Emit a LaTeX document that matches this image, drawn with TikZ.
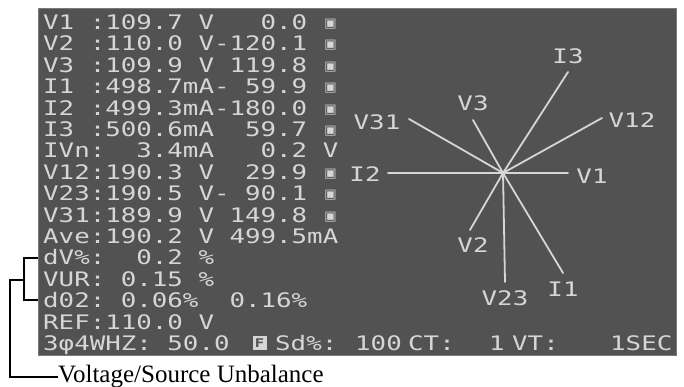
\documentclass[tikz,border=0pt]{standalone}
\usepackage{fontspec}
\setmainfont{Liberation Serif}
\newfontfamily\lcd[FakeStretch=1.29]{DejaVu Sans Mono}
\newfontfamily\symf{DejaVu Sans}
\definecolor{scrbg}{HTML}{525252}
\definecolor{scrrim}{HTML}{7A7A7A}
\definecolor{lcdfg}{HTML}{D6D6D6}
\newcommand\dg{\makebox[15.5pt]{\raisebox{2pt}{\fontsize{13}{13}\symf ▣}}}
\begin{document}
\begin{tikzpicture}[x=1pt,y=-1pt,
  lcdrow/.style={text=lcdfg,font=\lcd\fontsize{20}{20}\selectfont,inner sep=0pt,anchor=base west},
  lcdlab/.style={text=lcdfg,font=\lcd\fontsize{20}{20}\selectfont,inner sep=0pt,anchor=center},
  phasor/.style={draw=lcdfg,line width=1.8pt},
  bracket/.style={draw=black,line width=1.6pt},
  leader/.style={draw=black,line width=1.1pt}]
\useasboundingbox (0,0) rectangle (684,387);
% screen
\node (screen) [draw=scrrim,line width=1.2pt,fill=scrbg,inner sep=0pt,anchor=north west,
  minimum width=638pt,minimum height=347pt] at (38,8) {};
% table rows
\node (r0)  [lcdrow] at (43,29.5)  {V1~:109.7~V~~~0.0~\dg};
\node (r1)  [lcdrow] at (43,50.9)  {V2~:110.0~V-120.1~\dg};
\node (r2)  [lcdrow] at (43,72.3)  {V3~:109.9~V~119.8~\dg};
\node (r3)  [lcdrow] at (43,93.7)  {I1~:498.7mA-~59.9~\dg};
\node (r4)  [lcdrow] at (43,115.1) {I2~:499.3mA-180.0~\dg};
\node (r5)  [lcdrow] at (43,136.5) {I3~:500.6mA~~59.7~\dg};
\node (r6)  [lcdrow] at (43,157.9) {IVn:~~3.4mA~~~0.2~V};
\node (r7)  [lcdrow] at (43,179.3) {V12:190.3~V~~29.9~\dg};
\node (r8)  [lcdrow] at (43,200.7) {V23:190.5~V-~90.1~\dg};
\node (r9)  [lcdrow] at (43,222.1) {V31:189.9~V~149.8~\dg};
\node (r10) [lcdrow] at (43,243.5) {Ave:190.2~V~499.5mA};
\node (r11) [lcdrow] at (43,264.9) {dV\%:~~0.2~\%};
\node (r12) [lcdrow] at (43,286.3) {VUR:~0.15~\%};
\node (r13) [lcdrow] at (43,307.7) {d02:~0.06\%~~0.16\%};
\node (r14) [lcdrow] at (43,329.1) {REF:110.0~V};
% bottom status row
\node (s1) [lcdrow] at (43,350.5)  {3φ4WHZ:~50.0};
\node (sF) [fill=lcdfg,text=scrbg,font=\lcd\fontsize{12}{12}\selectfont\bfseries,inner sep=0pt,
  minimum width=14pt,minimum height=14pt] at (259.5,343) {F};
\node (s2) [lcdrow] at (275,350.5) {Sd\%:};
\node (s3) [lcdrow] at (355,350.5) {100};
\node (s4) [lcdrow] at (408,350.5) {CT:};
\node (s5) [lcdrow] at (489,350.5) {1};
\node (s6) [lcdrow] at (512,350.5) {VT:};
\node (s7) [lcdrow] at (610,350.5) {1SEC};
% phasor diagram
\coordinate (O) at (503,173);
\coordinate (eV1) at (568,173);
\coordinate (eV2) at (470,230);
\coordinate (eV3) at (473,120);
\coordinate (eV12) at (602,118);
\coordinate (eV23) at (505,282);
\coordinate (eV31) at (409,119);
\coordinate (eI1) at (563,273);
\coordinate (eI2) at (388,173);
\coordinate (eI3) at (568,72);
\foreach \e in {eV1,eV2,eV3,eV12,eV23,eV31,eI1,eI2,eI3}
  \draw[phasor,line cap=round] (O) -- (\e);
\node (lV1)  [lcdlab] at (592,176) {V1};
\node (lV2)  [lcdlab] at (473,245) {V2};
\node (lV3)  [lcdlab] at (473,103) {V3};
\node (lV12) [lcdlab] at (632,120) {V12};
\node (lV23) [lcdlab] at (505,298) {V23};
\node (lV31) [lcdlab] at (377,122) {V31};
\node (lI1)  [lcdlab] at (563,289) {I1};
\node (lI2)  [lcdlab] at (365,174) {I2};
\node (lI3)  [lcdlab] at (568,56)  {I3};
% annotation
\coordinate (bt) at (38,258);
\coordinate (bb) at (38,300);
\coordinate (bm) at (24,280);
\node (vsu) [anchor=west,inner sep=0pt,font=\fontsize{25}{25}\selectfont] at (58,377) {Voltage/Source Unbalance};
\draw[bracket] (bt) -- (24,258) -- (24,300) -- (bb);
\draw[leader] (bm) -- (10,280) |- (vsu.west);
\end{tikzpicture}
\end{document}
